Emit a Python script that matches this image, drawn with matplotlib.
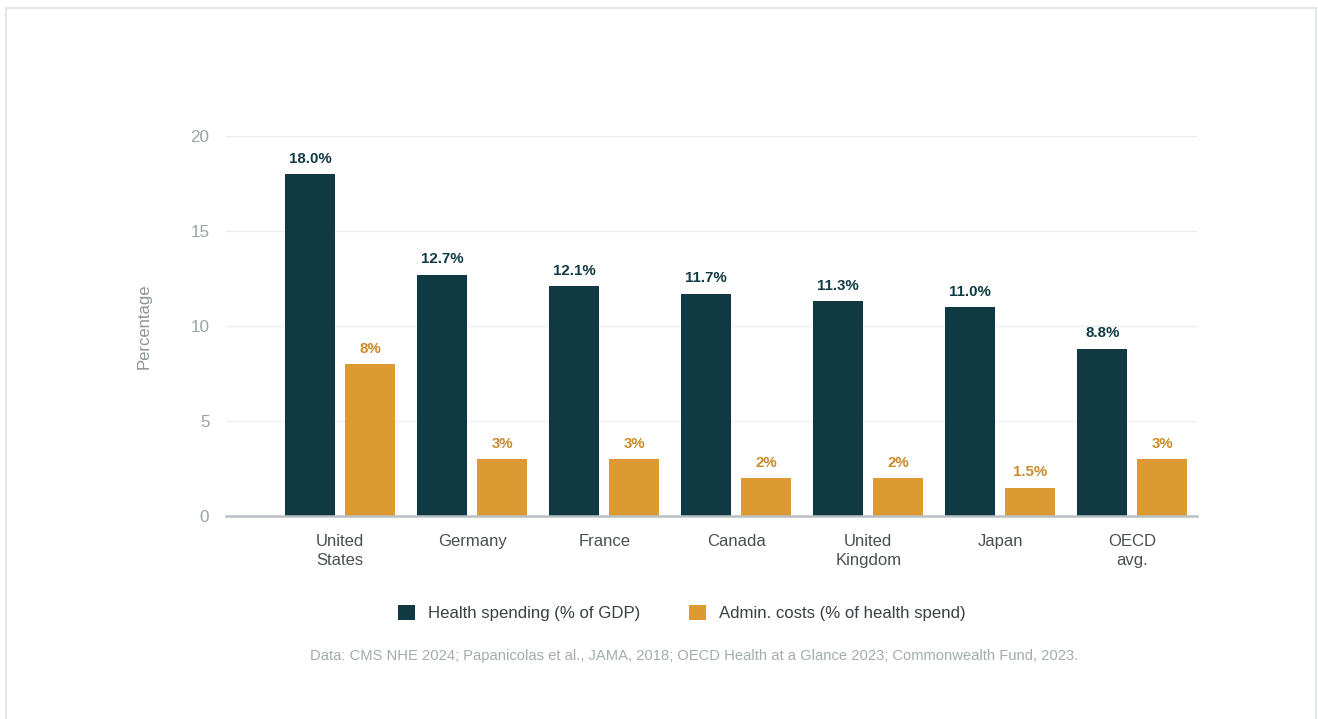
import numpy as np
import matplotlib.pyplot as plt
from matplotlib.patches import Rectangle

plt.rcParams['font.family'] = ['Liberation Sans', 'DejaVu Sans']

countries = ['United\nStates', 'Germany', 'France', 'Canada', 'United\nKingdom', 'Japan', 'OECD\navg.']
health_spend = [18.0, 12.7, 12.1, 11.7, 11.3, 11.0, 8.8]
admin_costs = [8, 3, 3, 2, 2, 1.5, 3]
admin_labels = ['8%', '3%', '3%', '2%', '2%', '1.5%', '3%']

dark = '#103a43'
orange = '#dd9a33'
orange_txt = '#c98a2a'
tick_gray = '#9aa3a6'

fig = plt.figure(figsize=(13.18, 7.19), dpi=100)
fig.patches.append(Rectangle((6/1318, -0.01), 1310/1318, 1 - 8/719 + 0.01,
                             transform=fig.transFigure, fill=False,
                             edgecolor='#e4e7e7', linewidth=1.5))

ax = fig.add_axes([226/1318, 203/719, 971/1318, 380/719])
x = np.arange(len(countries))
w = 0.379
off = 0.227

b1 = ax.bar(x - off, health_spend, w, color=dark, label='Health spending (% of GDP)', zorder=3)
b2 = ax.bar(x + off, admin_costs, w, color=orange, label='Admin. costs (% of health spend)', zorder=3)

for xi, v in zip(x, health_spend):
    ax.annotate(f'{v:.1f}%', (xi - off, v), xytext=(0, 6), textcoords='offset points',
                ha='center', va='bottom', fontsize=10.8, fontweight='bold', color=dark)
for xi, v, lab in zip(x, admin_costs, admin_labels):
    ax.annotate(lab, (xi + off, v), xytext=(0, 6), textcoords='offset points',
                ha='center', va='bottom', fontsize=10.8, fontweight='bold', color=orange_txt)

ax.set_xlim(-0.864, 6.49)
ax.set_ylim(0, 20)
ax.set_yticks([0, 5, 10, 15, 20])
ax.set_xticks(x)
ax.set_xticklabels(countries, fontsize=12, color='#4a4f52', linespacing=1.3)
ax.tick_params(axis='y', colors=tick_gray, labelsize=12.3, length=0, pad=12)
ax.tick_params(axis='x', length=0, pad=13)
ax.grid(axis='y', color='#eeeeee', linewidth=1, zorder=0)
for s in ['top', 'right', 'left']:
    ax.spines[s].set_visible(False)
ax.spines['bottom'].set_color('#b8c0c3')
ax.spines['bottom'].set_linewidth(1.8)
ax.spines['bottom'].set_zorder(4)
ax.set_ylabel('Percentage', fontsize=12, color='#8a9396', labelpad=28)

fig.legend(handles=[b1, b2], loc='center', bbox_to_anchor=(682/1318, 1 - 613/719),
           ncol=2, frameon=False, fontsize=12.1, handlelength=1.0, handleheight=1.0,
           columnspacing=2.9, handletextpad=0.8, labelcolor='#3a4044')

fig.text(694/1318, 1 - 656/719,
         'Data: CMS NHE 2024; Papanicolas et al., JAMA, 2018; OECD Health at a Glance 2023; Commonwealth Fund, 2023.',
         ha='center', va='center', fontsize=10.6, color='#a5abad')

fig.savefig('out.png', dpi=100)
